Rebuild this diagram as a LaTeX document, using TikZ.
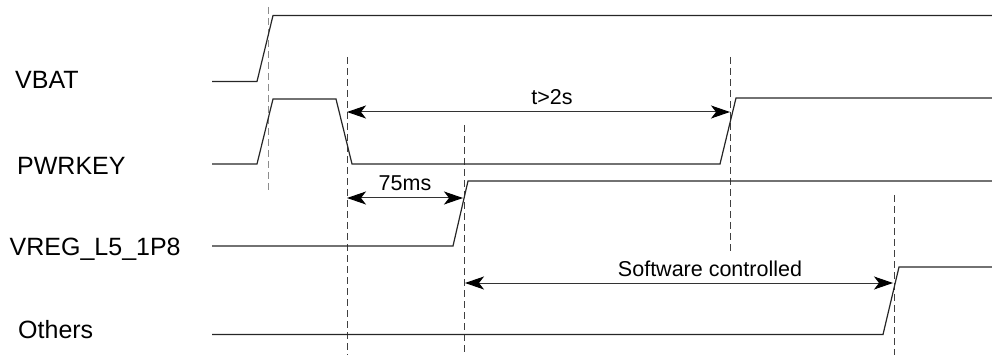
\documentclass[tikz,border=0pt]{standalone}
\usepackage{fontspec}
\setmainfont{Liberation Sans}
\usetikzlibrary{arrows.meta}
\begin{document}
\begin{tikzpicture}[x=1pt,y=-1pt,
  sig/.style={draw=black!85,line width=1.2pt,line join=miter},
  guide/.style={draw=black!75,line width=1pt,dash pattern=on 7pt off 4pt},
  guidegray/.style={draw=black!45,line width=1.6pt,dash pattern=on 7pt off 4pt},
  dim/.style={draw=black!80,line width=1pt,
    {Stealth[length=19pt,width=13pt,inset=5pt,color=black,fill=black]}-{Stealth[length=19pt,width=13pt,inset=5pt,color=black,fill=black]}},
  lbl/.style={font=\fontsize{25}{30}\selectfont,anchor=base west,inner sep=0pt},
  note/.style={font=\fontsize{21.5}{26}\selectfont,anchor=base,inner sep=0pt}]
\useasboundingbox (0,0) rectangle (992,355);
% labels
\node[lbl] (lvbat) at (15,89) {VBAT};
\node[lbl] (lpwr) at (17,175) {PWRKEY};
\node[lbl] (lvreg) at (9.5,255) {VREG\_L5\_1P8};
\node[lbl] (loth) at (18,338) {Others};
% waveform coordinates
\coordinate (v0) at (212,81.5); \coordinate (v1) at (257,81.5);
\coordinate (v2) at (273,15.5); \coordinate (v3) at (992,15.5);
\coordinate (p0) at (212,164); \coordinate (p1) at (257,164);
\coordinate (p2) at (273,99); \coordinate (p3) at (336,99);
\coordinate (p4) at (352,164); \coordinate (p5) at (720,164);
\coordinate (p6) at (736,98); \coordinate (p7) at (992,98);
\coordinate (r0) at (212,246); \coordinate (r1) at (453,246);
\coordinate (r2) at (468,181); \coordinate (r3) at (992,181);
\coordinate (o0) at (212,334.5); \coordinate (o1) at (883,334.5);
\coordinate (o2) at (899,267); \coordinate (o3) at (992,267);
% guides
\coordinate (g1t) at (268.5,7); \coordinate (g1b) at (268.5,192);
\coordinate (g2t) at (347,57); \coordinate (g2b) at (347,355);
\coordinate (g3t) at (464,125); \coordinate (g3b) at (464,355);
\coordinate (g4t) at (730,57); \coordinate (g4b) at (730,253);
\coordinate (g5t) at (894,195); \coordinate (g5b) at (894,355);
\draw[guidegray] (g1t) -- (g1b);
\draw[guide] (g2t) -- (g2b);
\draw[guide] (g3t) -- (g3b);
\draw[guide] (g4t) -- (g4b);
\draw[guide] (g5t) -- (g5b);
% signals
\draw[sig] (v0) -- (v1) -- (v2) -- (v3);
\draw[sig] (p0) -- (p1) -- (p2) -- (p3) -- (p4) -- (p5) -- (p6) -- (p7);
\draw[sig] (r0) -- (r1) -- (r2) -- (r3);
\draw[sig] (o0) -- (o1) -- (o2) -- (o3);
% dimension arrows
\coordinate (a1l) at (347,112); \coordinate (a1r) at (730,112);
\coordinate (a2l) at (347,198); \coordinate (a2r) at (463,198);
\coordinate (a3l) at (465,283); \coordinate (a3r) at (893,283);
\draw[dim] (a1l) -- (a1r);
\draw[dim] (a2l) -- (a2r);
\draw[dim] (a3l) -- (a3r);
\node[note] (t1) at (552,105) {t>2s};
\node[note] (t2) at (405,191) {75ms};
\node[note] (t3) at (710,276) {Software controlled};
\end{tikzpicture}
\end{document}
